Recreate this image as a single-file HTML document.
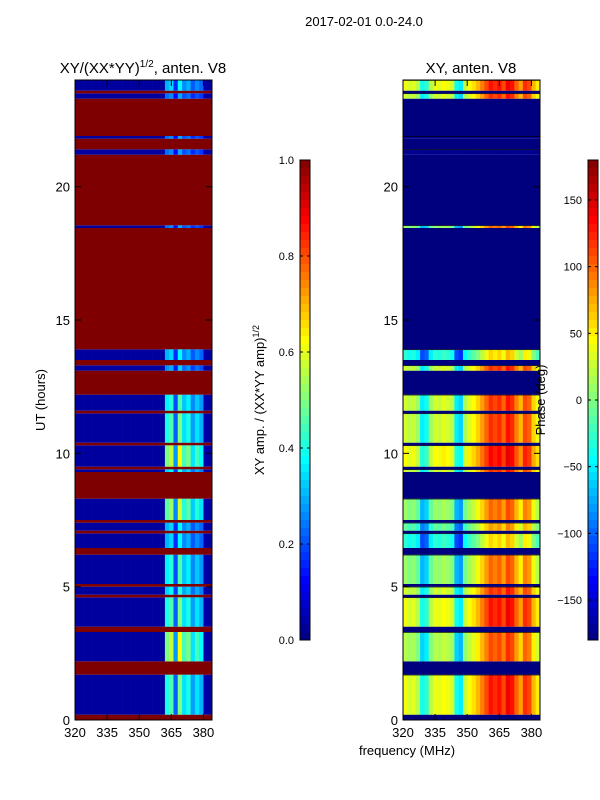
<!DOCTYPE html>
<html><head><meta charset="utf-8"><style>
body{margin:0;background:#fff;}
svg{display:block;font-family:"Liberation Sans",sans-serif;}
</style></head><body>
<svg id="fig" width="600" height="800">
<rect width="600" height="800" fill="#fff"/>
<text x="364" y="26" font-size="13" text-anchor="middle">2017-02-01 0.0-24.0</text>
<text x="143" y="73" font-size="15" text-anchor="middle">XY/(XX*YY)<tspan font-size="10" dy="-6">1/2</tspan><tspan dy="6">, anten. V8</tspan></text>
<text x="471" y="73" font-size="15" text-anchor="middle">XY, anten. V8</text>
<g id="left"></g>
<g id="right"></g>
<g id="axes"></g>
<text transform="translate(45,400) rotate(-90)" font-size="13" text-anchor="middle">UT (hours)</text>
<text x="407" y="755" font-size="13" text-anchor="middle">frequency (MHz)</text>
<text transform="translate(264,400) rotate(-90)" font-size="13" text-anchor="middle">XY amp. / (XX*YY amp)<tspan font-size="9" dy="-5">1/2</tspan></text>
<text transform="translate(545,400) rotate(-90)" font-size="13" text-anchor="middle">Phase (deg)</text>
</svg>
<script>
// data
const bandStart=[0,0.2,1.7,2.2,3.3,3.5,4.6,4.7,5.0,5.1,6.2,6.45,7.0,7.1,7.4,7.5,8.3,9.3,9.4,9.5,10.3,10.4,11.5,11.6,12.2,13.1,13.3,13.5,13.9,18.45,18.55,21.2,21.4,21.8,21.9,23.3,23.5,23.6];
const bandEnd=[0.2,1.7,2.2,3.3,3.5,4.6,4.7,5.0,5.1,6.2,6.45,7.0,7.1,7.4,7.5,8.3,9.3,9.4,9.5,10.3,10.4,11.5,11.6,12.2,13.1,13.3,13.5,13.9,18.45,18.55,21.2,21.4,21.8,21.9,23.3,23.5,23.6,24];
const bandFlag=[1,0,1,0,1,0,1,0,1,0,1,0,1,0,1,0,1,0,1,0,1,0,1,0,1,0,1,0,1,0,1,0,1,0,1,0,1,0];
const bandAmp=[0,0.6,0,0.75,0,0.6,0,0.5,0,0.55,0,0.45,0,0.45,0,0.7,0,0.5,0,0.75,0,0.6,0,0.55,0,0.4,0,0.45,0,0.35,0,0.35,0,0.35,0,0.35,0,0.45];
const bandPhase=[0,10,0,-10,0,10,0,0,0,-20,0,-60,0,-40,0,-20,0,0,0,15,0,0,0,0,0,0,0,-60,0,-20,0,-170,0,-170,0,0,0,10];
const freqs=[320,322,324,326,328,330,332,334,336,338,340,342,344,346,348,350,352,354,356,358,360,362,364,366,368,370,372,374,376,378,380,382];
const ampProfile=[0.03,0.03,0.03,0.03,0.03,0.03,0.03,0.03,0.03,0.03,0.03,0.03,0.03,0.03,0.03,0.03,0.03,0.03,0.03,0.03,0.03,0.4,0.45,0.22,0.5,0.35,0.4,0.28,0.35,0.3,0.04,0.03];
const phaseProfile=[30,20,25,10,-50,-40,10,30,25,35,30,20,-50,-60,15,35,45,60,80,100,120,110,120,100,130,120,90,70,110,100,60,40];
const ampTicks=[0,0.2,0.4,0.6,0.8,1.0];
const phaseTicks=[-150,-100,-50,0,50,100,150];
const xTicks=[320,335,350,365,380];
const yTicks=[0,5,10,15,20];

const NS='http://www.w3.org/2000/svg';
const svg=document.getElementById('fig');
function yS(h){return 720-h*640/24;}
function xL(f){return 75+(f-320)*137/64;}
function xR(f){return 403+(f-320)*137/64;}
function jet(v){v=Math.max(0,Math.min(1,v));
 const r=Math.max(0,Math.min(1,1.5-Math.abs(4*v-3)));
 const g=Math.max(0,Math.min(1,1.5-Math.abs(4*v-2)));
 const b=Math.max(0,Math.min(1,1.5-Math.abs(4*v-1)));
 return `rgb(${Math.round(r*255)},${Math.round(g*255)},${Math.round(b*255)})`;}
function mk(tag,attrs,parent){const e=document.createElementNS(NS,tag);for(const k in attrs)e.setAttribute(k,attrs[k]);parent.appendChild(e);return e;}
const gL=document.getElementById('left'),gR=document.getElementById('right'),gA=document.getElementById('axes');
for(let i=0;i<bandStart.length;i++){
 const y0=yS(bandEnd[i]),hgt=yS(bandStart[i])-yS(bandEnd[i]);
 if(bandFlag[i]){
  const a=mk('rect',{x:xL(320),y:y0,width:137,height:hgt,fill:'#7f0000'},gL);
  
  
  const b=mk('rect',{x:xR(320),y:y0,width:137,height:hgt,fill:'#00007f'},gR);
  
  
 } else {
  for(let j=0;j<freqs.length;j++){
   const w=137*2/64+0.3;
   const av=ampProfile[j]>0.2?ampProfile[j]*bandAmp[i]/0.6:ampProfile[j];
   const c=mk('rect',{x:xL(freqs[j]),y:y0,width:w,height:hgt,fill:jet(av)},gL);
   
   
   let p=phaseProfile[j]+bandPhase[i];
   if(bandPhase[i]<-150)p=-175;
   p=Math.max(-180,Math.min(180,p));
   const d=mk('rect',{x:xR(freqs[j]),y:y0,width:w,height:hgt,fill:jet((p+180)/360)},gR);
   
   
  }
  const s=mk('rect',{x:xR(320),y:y0,width:137,height:0.7,fill:'#000'},gR);
  
  
 }
}
// axes frames and ticks
[[75,xL],[403,xR]].forEach(([x0,xf],k)=>{
 const fr=mk('rect',{x:x0,y:80,width:137,height:640,fill:'none',stroke:'#000','stroke-width':1},gA);
 
 
 xTicks.forEach(t=>{const x=xf(t);
  mk('line',{x1:x,y1:720,x2:x,y2:714,stroke:'#000'},gA);
  mk('line',{x1:x,y1:80,x2:x,y2:86,stroke:'#000'},gA);
  const tx=mk('text',{x:x,y:737,'font-size':13,'text-anchor':'middle'},gA);tx.textContent=t;
  
  
 });
 yTicks.forEach(t=>{const y=yS(t);
  mk('line',{x1:x0,y1:y,x2:x0+6,y2:y,stroke:'#000'},gA);
  mk('line',{x1:x0+137,y1:y,x2:x0+131,y2:y,stroke:'#000'},gA);
  const tx=mk('text',{x:x0-5,y:y+5,'font-size':13,'text-anchor':'end'},gA);tx.textContent=t;
  
  
 });
});
// colorbars
function cbar(x,vmin,vmax,ticks,name,fmt){
 const n=60;
 for(let i=0;i<n;i++){
  const r=mk('rect',{x:x,y:160+i*8,width:10,height:8.5,fill:jet(1-(i+0.5)/n)},gA);
  
  
 }
 mk('rect',{x:x,y:160,width:10,height:480,fill:'none',stroke:'#000'},gA);
 ticks.forEach(t=>{const y=640-(t-vmin)/(vmax-vmin)*480;
  mk('line',{x1:x,y1:y,x2:x+3,y2:y,stroke:'#000'},gA);
  mk('line',{x1:x+10,y1:y,x2:x+7,y2:y,stroke:'#000'},gA);
  const tx=mk('text',{x:x-6,y:y+4,'font-size':11,'text-anchor':'end'},gA);tx.textContent=fmt(t);
  
  
 });
}
cbar(300,0,1,ampTicks,'amp-colorbar',t=>t.toFixed(1));
cbar(588,-180,180,phaseTicks,'phase-colorbar',t=>t<0?'\u2212'+(-t):String(t));
</script>
</body></html>
